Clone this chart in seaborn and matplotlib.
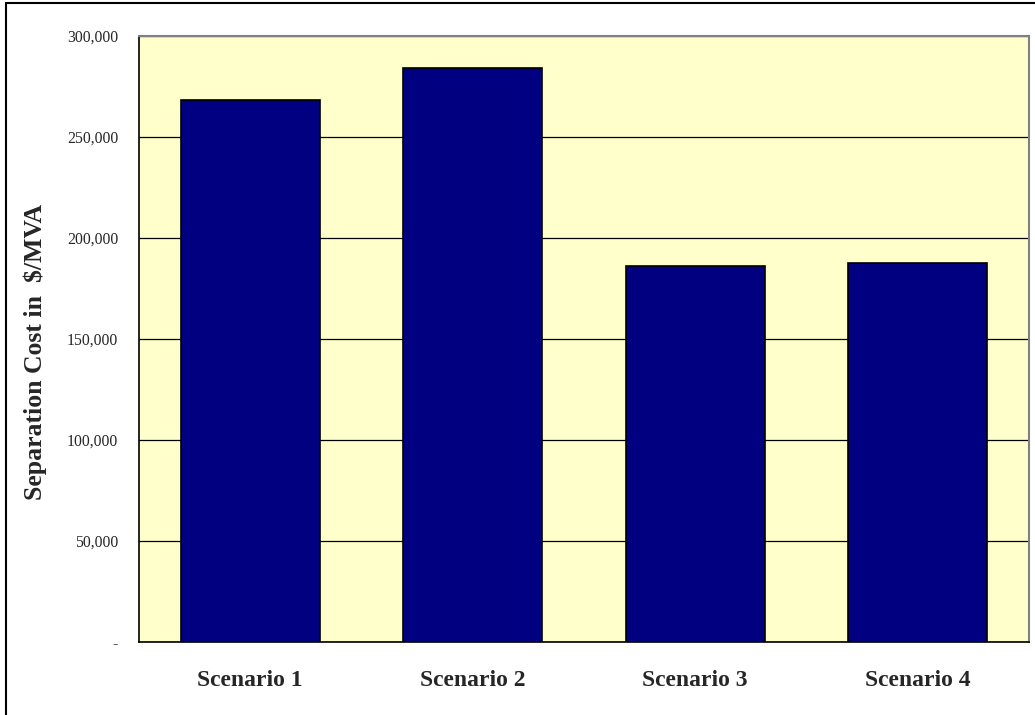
import matplotlib
matplotlib.use("Agg")
import matplotlib.pyplot as plt
import matplotlib.ticker as mticker
import seaborn as sns
import pandas as pd

categories = ["Scenario 1", "Scenario 2", "Scenario 3", "Scenario 4"]
costs = [268500, 284000, 186000, 187500]
yticks = [0, 50000, 100000, 150000, 200000, 250000, 300000]

df = pd.DataFrame({"Scenario": categories, "Cost": costs})

sns.set_theme(style="white")
plt.rcParams["font.family"] = ["Liberation Serif", "DejaVu Serif"]

fig = plt.figure(figsize=(10.35, 7.15), dpi=100)
ax = fig.add_axes([139/1035, 1 - 642/715, 890/1035, 606/715])
ax.set_facecolor("#FFFFCC")

sns.barplot(data=df, x="Scenario", y="Cost", ax=ax, color="#000080",
            saturation=1, width=0.625, edgecolor="black", linewidth=1.2, zorder=3)

ax.set_ylim(0, 300000)
ax.set_xlim(-0.5, 3.5)
ax.set_yticks(yticks)
ax.yaxis.set_major_formatter(mticker.FuncFormatter(lambda v, p: "-" if v == 0 else f"{int(v):,}"))
ax.grid(axis="y", color="black", linewidth=0.9, zorder=1)
ax.set_axisbelow(True)

ax.set_xticks([0, 1, 2, 3])
ax.set_xticklabels(categories, fontsize=17, fontweight="bold")
ax.set_xticks([-0.5, 0.5, 1.5, 2.5, 3.5], minor=True)
ax.tick_params(axis="x", which="major", length=0, pad=20)
ax.tick_params(axis="x", which="minor", length=6, width=1, color="black", direction="out")
ax.tick_params(axis="y", length=6, width=1, color="black", direction="out", labelsize=11.3, pad=9)

ax.set_xlabel("")
ax.set_ylabel("Separation Cost in  $/MVA", fontsize=18.5, fontweight="bold")
ax.yaxis.set_label_coords(-0.1035, 0.4785)

for s in ["left", "bottom"]:
    ax.spines[s].set_color("black")
    ax.spines[s].set_linewidth(1.2)
for s in ["top", "right"]:
    ax.spines[s].set_color("#808080")
    ax.spines[s].set_linewidth(1.5)

# figure border (top and left visible)
fig.add_artist(plt.Line2D([6/1035, 6/1035], [0, 1 - 3/715], color="black", linewidth=1.5, transform=fig.transFigure))
fig.add_artist(plt.Line2D([6/1035, 1], [1 - 3/715, 1 - 3/715], color="black", linewidth=1.5, transform=fig.transFigure))

fig.savefig("out.png", dpi=100)
